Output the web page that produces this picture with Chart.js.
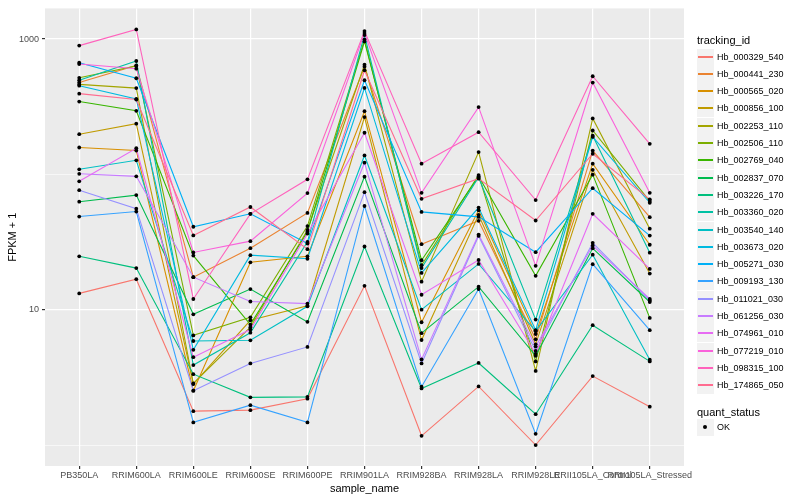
<!DOCTYPE html>
<html>
<head>
<meta charset="utf-8">
<script src="https://cdn.jsdelivr.net/npm/chart.js@4.4.1/dist/chart.umd.min.js"></script>
<style>
  body { margin: 0; background: #fff; font-family: 'Liberation Sans', Arial, sans-serif; }
  #wrap { position: relative; width: 800px; height: 500px; }
  #legend { position: absolute; left: 0; top: 0; width: 800px; height: 500px; pointer-events: none; }
  .ttl { position: absolute; left: 697px; font-size: 11px; color: #000; line-height: 13px; }
  .key { position: absolute; left: 697px; width: 17px; height: 17px; background: #F2F2F2; }
  .key i { position: absolute; left: 1px; right: 1px; top: 7px; height: 2px; }
  .key b { position: absolute; left: 6px; top: 6px; width: 4px; height: 4px; border-radius: 2px; background: #000; }
  .lbl { position: absolute; left: 717px; font-size: 9px; color: #000; line-height: 11px; }
</style>
</head>
<body>
<div id="wrap">
  <canvas id="chart" width="800" height="500"></canvas>
  <div id="legend"></div>
</div>
<script>
// x categories
const sampleNames = ['PB350LA', 'RRIM600LA', 'RRIM600LE', 'RRIM600SE', 'RRIM600PE', 'RRIM901LA',
  'RRIM928BA', 'RRIM928LA', 'RRIM928LE', 'RRII105LA_Control', 'RRII105LA_Stressed']

const trackingIds = ['Hb_000329_540', 'Hb_000441_230', 'Hb_000565_020', 'Hb_000856_100', 'Hb_002253_110',
  'Hb_002506_110', 'Hb_002769_040', 'Hb_002837_070', 'Hb_003226_170', 'Hb_003360_020',
  'Hb_003540_140', 'Hb_003673_020', 'Hb_005271_030', 'Hb_009193_130', 'Hb_011021_030',
  'Hb_061256_030', 'Hb_074961_010', 'Hb_077219_010', 'Hb_098315_100', 'Hb_174865_050']

// FPKM + 1, one value per sample
const hb_000329_540 = [13.2, 16.8, 1.78, 1.81, 2.2, 15.0, 1.17, 2.71, 1.0, 3.23, 1.92]
const hb_000441_230 = [477, 638, 17.4, 28.5, 51.9, 624, 30.5, 45.4, 6.04, 150, 48.3]
const hb_000565_020 = [158, 150, 2.52, 22.4, 24.8, 293, 8.08, 54.3, 6.6, 120, 30.2]
const hb_000856_100 = [198, 237, 2.82, 8.35, 10.7, 265, 5.97, 50.2, 5.55, 108, 18.5]
const hb_002253_110 = [462, 434, 2.85, 7.43, 38.8, 646, 16.1, 146, 3.53, 259, 39.7]
const hb_002506_110 = [517, 632, 6.46, 8.78, 41.5, 990, 21.3, 98.8, 4.15, 211, 63.5]
const hb_002769_040 = [345, 295, 25.1, 7.77, 37.7, 960, 23.2, 96.7, 17.8, 99.5, 8.7]
const hb_002837_070 = [62.8, 70.3, 9.24, 14.2, 8.13, 96.2, 6.71, 14.8, 4.56, 28.4, 11.4]
const hb_003226_170 = [24.8, 20.3, 3.34, 2.25, 2.27, 29.3, 2.62, 4.04, 1.69, 7.68, 4.15]
const hb_003360_020 = [496, 688, 3.9, 6.76, 31.7, 1070, 20.3, 95.1, 8.45, 193, 26.4]
const hb_003540_140 = [109, 127, 5.87, 5.94, 10.6, 138, 10.0, 21.8, 6.94, 25.5, 4.27]
const hb_003673_020 = [452, 361, 5.05, 25.3, 23.8, 435, 18.7, 56.8, 7.06, 189, 61.7]
const hb_005271_030 = [668, 513, 41.0, 51.1, 30.8, 496, 52.8, 48.5, 26.6, 79.0, 35.3]
const hb_009193_130 = [48.8, 53.1, 1.47, 1.97, 1.47, 58.4, 2.7, 14.2, 1.21, 21.7, 7.06]
const hb_011021_030 = [76.4, 55.8, 2.52, 4.01, 5.31, 73.9, 4.01, 35.1, 4.96, 31.2, 11.7]
const hb_061256_030 = [101, 96.7, 17.4, 11.5, 11.1, 122, 4.29, 35.9, 5.34, 29.8, 12.0]
const hb_074961_010 = [88.9, 156, 4.46, 7.14, 36.5, 203, 12.9, 23.3, 4.72, 51.1, 20.0]
const hb_077219_010 = [654, 604, 26.5, 32.1, 72.7, 1106, 73.0, 314, 21.1, 477, 73.0]
const hb_098315_100 = [894, 1177, 12.0, 51.1, 91.9, 1144, 120, 205, 64.6, 531, 168]
const hb_174865_050 = [395, 357, 35.4, 57.4, 28.0, 587, 66.0, 93.0, 45.6, 142, 65.4]

const seriesValues = [hb_000329_540, hb_000441_230, hb_000565_020, hb_000856_100, hb_002253_110,
  hb_002506_110, hb_002769_040, hb_002837_070, hb_003226_170, hb_003360_020,
  hb_003540_140, hb_003673_020, hb_005271_030, hb_009193_130, hb_011021_030,
  hb_061256_030, hb_074961_010, hb_077219_010, hb_098315_100, hb_174865_050]

// y axis: gridlines and the ones that get a label
const yGridValues = [1, 10, 100, 1000]
const yLabelValues = [10, 1000]

const colors = ['#F8766D', '#EA8331', '#D89000', '#C09B00', '#A3A500', '#7CAE00', '#39B600', '#00BB4E',
  '#00BF7D', '#00C1A3', '#00BFC4', '#00BAE0', '#00B0F6', '#35A2FF', '#9590FF', '#C77CFF',
  '#E76BF3', '#FA62DB', '#FF62BC', '#FF6C90']

Chart.defaults.font.family = "'Liberation Sans', Arial, sans-serif"

const panelBg = {
  id: 'panelBg',
  beforeDraw(chart) {
    const { ctx, chartArea: a } = chart
    ctx.save()
    ctx.fillStyle = '#EBEBEB'
    ctx.fillRect(a.left, a.top, a.right - a.left, a.bottom - a.top)
    ctx.restore()
  },
}

const lineSets = seriesValues.map((vals, i) => ({
  label: trackingIds[i],
  data: vals.map((v, j) => ({ x: j, y: v })),
  borderColor: colors[i],
  backgroundColor: colors[i],
  borderWidth: 1.1,
  pointRadius: 0,
  fill: false,
  tension: 0,
  order: 20 - i,
}))

const pointSet = {
  label: 'OK',
  data: seriesValues.flatMap((vals) => vals.map((v, j) => ({ x: j, y: v }))),
  showLine: false,
  pointRadius: 1.9,
  pointBackgroundColor: '#000',
  pointBorderWidth: 0,
  order: 0,
}

const isMajor = (ctx) => ctx.tick && yLabelValues.includes(ctx.tick.value)

new Chart(document.getElementById('chart').getContext('2d'), {
  type: 'line',
  data: { datasets: [...lineSets, pointSet] },
  plugins: [panelBg],
  options: {
    responsive: false,
    animation: false,
    layout: { padding: { top: 5, right: 116, left: 0, bottom: 0 } },
    plugins: { legend: { display: false }, tooltip: { enabled: false } },
    scales: {
      x: {
        type: 'linear',
        min: -0.6,
        max: 10.6,
        afterBuildTicks(scale) {
          scale.ticks = sampleNames.map((_, i) => ({ value: i }))
        },
        afterFit(scale) {
          scale.height = 34
        },
        ticks: {
          callback: (v) => sampleNames[v],
          autoSkip: false,
          maxRotation: 0,
          minRotation: 0,
          padding: 1,
          color: '#4D4D4D',
          font: { size: 9 },
        },
        grid: { color: '#FFFFFF', lineWidth: 1.2, tickLength: 3, tickColor: '#333333' },
        border: { display: false },
        title: { display: true, text: 'sample_name', color: '#000', font: { size: 11 }, padding: { top: 0, bottom: 4 } },
      },
      y: {
        type: 'logarithmic',
        min: 0.727,
        max: 1684,
        afterBuildTicks(scale) {
          scale.ticks = yGridValues.map((v) => ({ value: v }))
        },
        afterFit(scale) {
          scale.width = 45
        },
        ticks: {
          callback: (v) => (yLabelValues.includes(v) ? String(v) : ''),
          padding: 3,
          color: '#4D4D4D',
          font: { size: 9 },
        },
        grid: {
          color: '#FFFFFF',
          lineWidth: (ctx) => (isMajor(ctx) ? 1.2 : 0.6),
          tickLength: 3,
          tickColor: (ctx) => (isMajor(ctx) ? '#333333' : 'rgba(0,0,0,0)'),
        },
        border: { display: false },
        title: { display: true, text: 'FPKM + 1', color: '#000', font: { size: 11 }, padding: { top: 6, bottom: 0 } },
      },
    },
  },
})

// legend, drawn as html next to the panel
const legend = document.getElementById('legend')
let html = '<div class="ttl" style="top:34px">tracking_id</div>'
trackingIds.forEach((id, i) => {
  const top = Math.round(48.5 + 17.3 * i)
  html += `<div class="key" style="top:${top}px"><i style="background:${colors[i]}"></i></div>`
  html += `<div class="lbl" style="top:${top + 3}px">${id}</div>`
})
html += '<div class="ttl" style="top:406px">quant_status</div>'
html += '<div class="key" style="top:419px"><b></b></div>'
html += '<div class="lbl" style="top:422px">OK</div>'
legend.innerHTML = html
</script>
</body>
</html>
